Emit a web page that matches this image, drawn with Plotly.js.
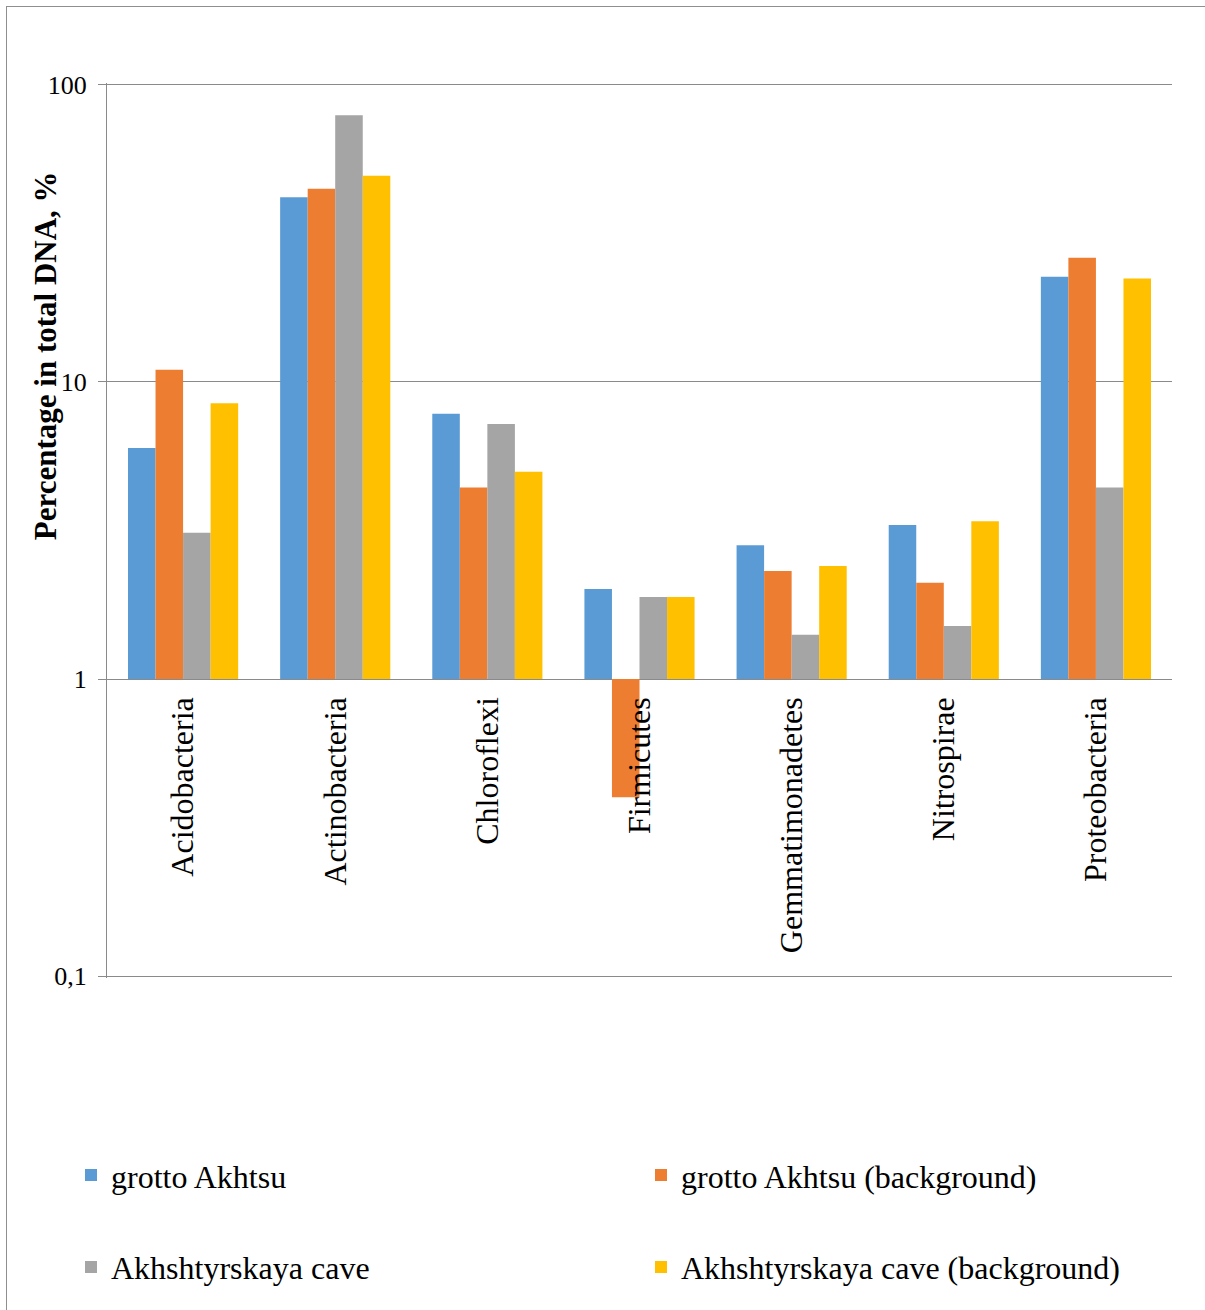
<!DOCTYPE html>
<html>
<head>
<meta charset="utf-8">
<script src="https://cdn.plot.ly/plotly-3.0.1.min.js"></script>
<style>
  html, body { margin: 0; padding: 0; background: #fff; overflow: hidden; }
  #chart { position: absolute; left: 0; top: 0; width: 1205px; height: 1310px; }
  #frame { position: absolute; left: 6px; top: 6px; width: 1300px; height: 1400px;
           border: 1.5px solid #8f8f8f; pointer-events: none; }
</style>
</head>
<body>
<div id="chart"></div>
<div id="frame"></div>
<script>
// Phyla shown on the category axis
const phyla = ['Acidobacteria', 'Actinobacteria', 'Chloroflexi', 'Firmicutes',
               'Gemmatimonadetes', 'Nitrospirae', 'Proteobacteria'];

// Share of each phylum in total DNA, %
const grottoAkhtsu           = [5.99, 41.8, 7.82, 2.01, 2.82, 3.30, 22.6];
const grottoAkhtsuBackground = [11.0, 44.7, 4.41, 0.40, 2.31, 2.11, 26.2];
const akhshtyrskayaCave      = [3.11, 78.9, 7.22, 1.89, 1.41, 1.51, 4.41];
const akhshtyrskayaCaveBg    = [8.47, 49.4, 4.99, 1.89, 2.40, 3.40, 22.3];

const seriesNames = ['grotto Akhtsu', 'grotto Akhtsu (background)',
                     'Akhshtyrskaya cave', 'Akhshtyrskaya cave (background)'];
const seriesColors = ['#5B9BD5', '#ED7D31', '#A5A5A5', '#FFC000'];

// Y axis ticks (decimal comma)
const yTickVals = [0.1, 1, 10, 100];
const yTickText = ['0,1', '1', '10', '100'];

// Page geometry
const W = 1205, H = 1310;
const M = { l: 107, r: 33, t: 82.5, b: 331.5 };
const plotW = W - M.l - M.r, plotH = H - M.t - M.b;
const px2x = px => (px - M.l) / plotW;
const py2y = py => (H - M.b - py) / plotH;

const FONT = 'Liberation Serif, Times New Roman, serif';
const GRID = '#8a8a8a';

// Bars grow from 1 (the horizontal axis crosses the value axis at 1)
const BASE = 1;
const allSeries = [grottoAkhtsu, grottoAkhtsuBackground, akhshtyrskayaCave, akhshtyrskayaCaveBg];
const legendIds = ['legend', 'legend2', 'legend3', 'legend4'];

const traces = allSeries.map((vals, i) => ({
  type: 'bar',
  name: seriesNames[i],
  x: phyla,
  y: vals.map(v => v - BASE),
  base: BASE,
  customdata: vals,
  hovertemplate: '%{x}: %{customdata}%<extra>' + seriesNames[i] + '</extra>',
  marker: { color: seriesColors[i], line: { width: 0 } },
  legend: legendIds[i]
}));

// Legend placement: two columns, two rows
const legendPos = [
  { x: 71,  y: 1176 },
  { x: 641, y: 1176 },
  { x: 71,  y: 1268 },
  { x: 641, y: 1268 }
];
const legendStyle = p => ({
  x: px2x(p.x), y: py2y(p.y), xref: 'paper', yref: 'paper',
  xanchor: 'left', yanchor: 'middle', orientation: 'h',
  bgcolor: 'rgba(0,0,0,0)', borderwidth: 0,
  font: { family: FONT, size: 32, color: '#000' }
});

const layout = {
  width: W, height: H,
  margin: M,
  paper_bgcolor: '#fff',
  plot_bgcolor: '#fff',
  font: { family: FONT, color: '#000' },
  barmode: 'group',
  bargap: 0.276,
  bargroupgap: 0,
  showlegend: true,
  legend: legendStyle(legendPos[0]),
  legend2: legendStyle(legendPos[1]),
  legend3: legendStyle(legendPos[2]),
  legend4: legendStyle(legendPos[3]),
  xaxis: {
    type: 'category',
    anchor: 'free',
    position: py2y(680),
    showline: false,
    showgrid: false,
    ticks: '',
    tickangle: -90,
    ticklabelstandoff: 10,
    tickfont: { family: FONT, size: 32, color: '#000' },
    fixedrange: true
  },
  yaxis: {
    type: 'log',
    // slightly wider than 0.1–100 so the gridlines at both ends are kept
    range: [-1.006, 2.006],
    tickvals: yTickVals,
    ticktext: yTickText,
    ticks: 'outside',
    ticklen: 8,
    tickwidth: 1.3,
    tickcolor: GRID,
    showline: true,
    linecolor: GRID,
    linewidth: 1.3,
    showgrid: true,
    gridcolor: GRID,
    gridwidth: 1.3,
    zeroline: false,
    tickfont: { family: FONT, size: 26, color: '#000' },
    ticklabelstandoff: 6,
    fixedrange: true
  },
  annotations: [{
    text: '<b>Percentage in total DNA, %</b>',
    xref: 'paper', yref: 'paper',
    x: px2x(45), y: py2y(356),
    xanchor: 'center', yanchor: 'middle',
    textangle: -90,
    showarrow: false,
    font: { family: FONT, size: 31, color: '#000' }
  }]
};

Plotly.newPlot('chart', traces, layout, { displayModeBar: false });
</script>
</body>
</html>
